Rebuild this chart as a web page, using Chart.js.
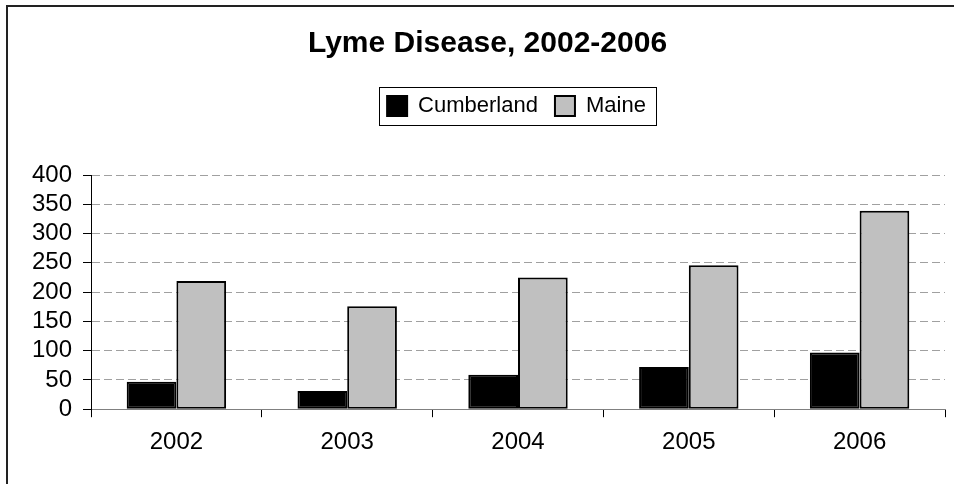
<!DOCTYPE html>
<html>
<head>
<meta charset="utf-8">
<script src="https://cdn.jsdelivr.net/npm/chart.js@4/dist/chart.umd.min.js"></script>
<style>
  html, body { margin: 0; padding: 0; background: #fff; }
  #wrap { width: 954px; height: 484px; }
</style>
</head>
<body>
<div id="wrap"><canvas id="lyme" width="954" height="484"></canvas></div>
<script>
// data
const years = ["2002", "2003", "2004", "2005", "2006"];
const cumberland = [47, 31, 59, 72, 97];
const maine = [219, 176, 225, 246, 339];
const yTicks = [0, 50, 100, 150, 200, 250, 300, 350, 400];

const FONT = "'Liberation Sans', Arial, sans-serif";

// frame round the chart (top + left only, like the cropped original)
const framePlugin = {
  id: "frame",
  afterDraw(chart) {
    const ctx = chart.ctx;
    ctx.save();
    ctx.strokeStyle = "#222";
    ctx.lineWidth = 2;
    ctx.beginPath();
    ctx.moveTo(7, chart.height);
    ctx.lineTo(7, 6);
    ctx.lineTo(chart.width, 6);
    ctx.stroke();

    // box round the legend
    const boxes = chart.legend.legendHitBoxes;
    if (boxes && boxes.length) {
      const left = Math.min(...boxes.map((b) => b.left)) - 8;
      const right = Math.max(...boxes.map((b) => b.left + b.width)) + 10;
      const top = Math.min(...boxes.map((b) => b.top)) - 8;
      const bottom = Math.max(...boxes.map((b) => b.top + b.height)) + 8;
      ctx.strokeStyle = "#000";
      ctx.lineWidth = 1;
      ctx.strokeRect(Math.round(left) + 0.5, Math.round(top) + 0.5, Math.round(right - left), Math.round(bottom - top));
    }
    ctx.restore();
  },
};

// extra gap under the legend, and legend sits a bit right of the title
const legendTweak = {
  id: "legendTweak",
  beforeInit(chart) {
    const fit = chart.legend.fit;
    chart.legend.fit = function () {
      fit.bind(chart.legend)();
      this.height += 48;
    };
  },
  afterLayout(chart) {
    chart.legend.left += 29;
    chart.legend.right += 29;
  },
};

new Chart(document.getElementById("lyme"), {
  type: "bar",
  data: {
    labels: years,
    datasets: [
      {
        label: "Cumberland",
        data: cumberland,
        backgroundColor: "#000000",
        borderColor: "#000000",
        borderWidth: 2,
        borderSkipped: false,
      },
      {
        label: "Maine",
        data: maine,
        backgroundColor: "#c0c0c0",
        borderColor: "#000000",
        borderWidth: 2,
        borderSkipped: false,
      },
    ],
  },
  options: {
    responsive: false,
    animation: false,
    devicePixelRatio: 1,
    layout: { padding: { left: 30, right: 9, top: 0, bottom: 16 } },
    datasets: {
      bar: { categoryPercentage: 0.582, barPercentage: 1.0 },
    },
    plugins: {
      tooltip: { enabled: false },
      title: {
        display: true,
        text: "Lyme Disease, 2002-2006",
        color: "#000",
        font: { family: FONT, size: 30, weight: "bold" },
        padding: { top: 26, bottom: 16 },
      },
      legend: {
        display: true,
        position: "top",
        labels: {
          color: "#000",
          font: { family: FONT, size: 22 },
          boxWidth: 20,
          boxHeight: 20,
          padding: 17,
        },
      },
    },
    scales: {
      x: {
        grid: {
          offset: true,
          drawOnChartArea: false,
          drawTicks: true,
          tickLength: 8,
          tickColor: "#000",
        },
        border: { color: "#808080", width: 1 },
        ticks: {
          color: "#000",
          padding: 11,
          font: { family: FONT, size: 24 },
        },
      },
      y: {
        min: 0,
        max: 400,
        afterFit(scale) {
          scale.width = 61;
        },
        afterBuildTicks(scale) {
          scale.ticks = yTicks.map((v) => ({ value: v }));
        },
        grid: {
          color: "#a0a0a0",
          lineWidth: 1,
          tickLength: 8,
          tickColor: "#000",
          tickBorderDash: [],
        },
        border: { color: "#000", width: 1, dash: [8, 4] },
        ticks: {
          autoSkip: false,
          color: "#000",
          padding: 11,
          font: { family: FONT, size: 24 },
        },
      },
    },
  },
  plugins: [legendTweak, framePlugin],
});
</script>
</body>
</html>
